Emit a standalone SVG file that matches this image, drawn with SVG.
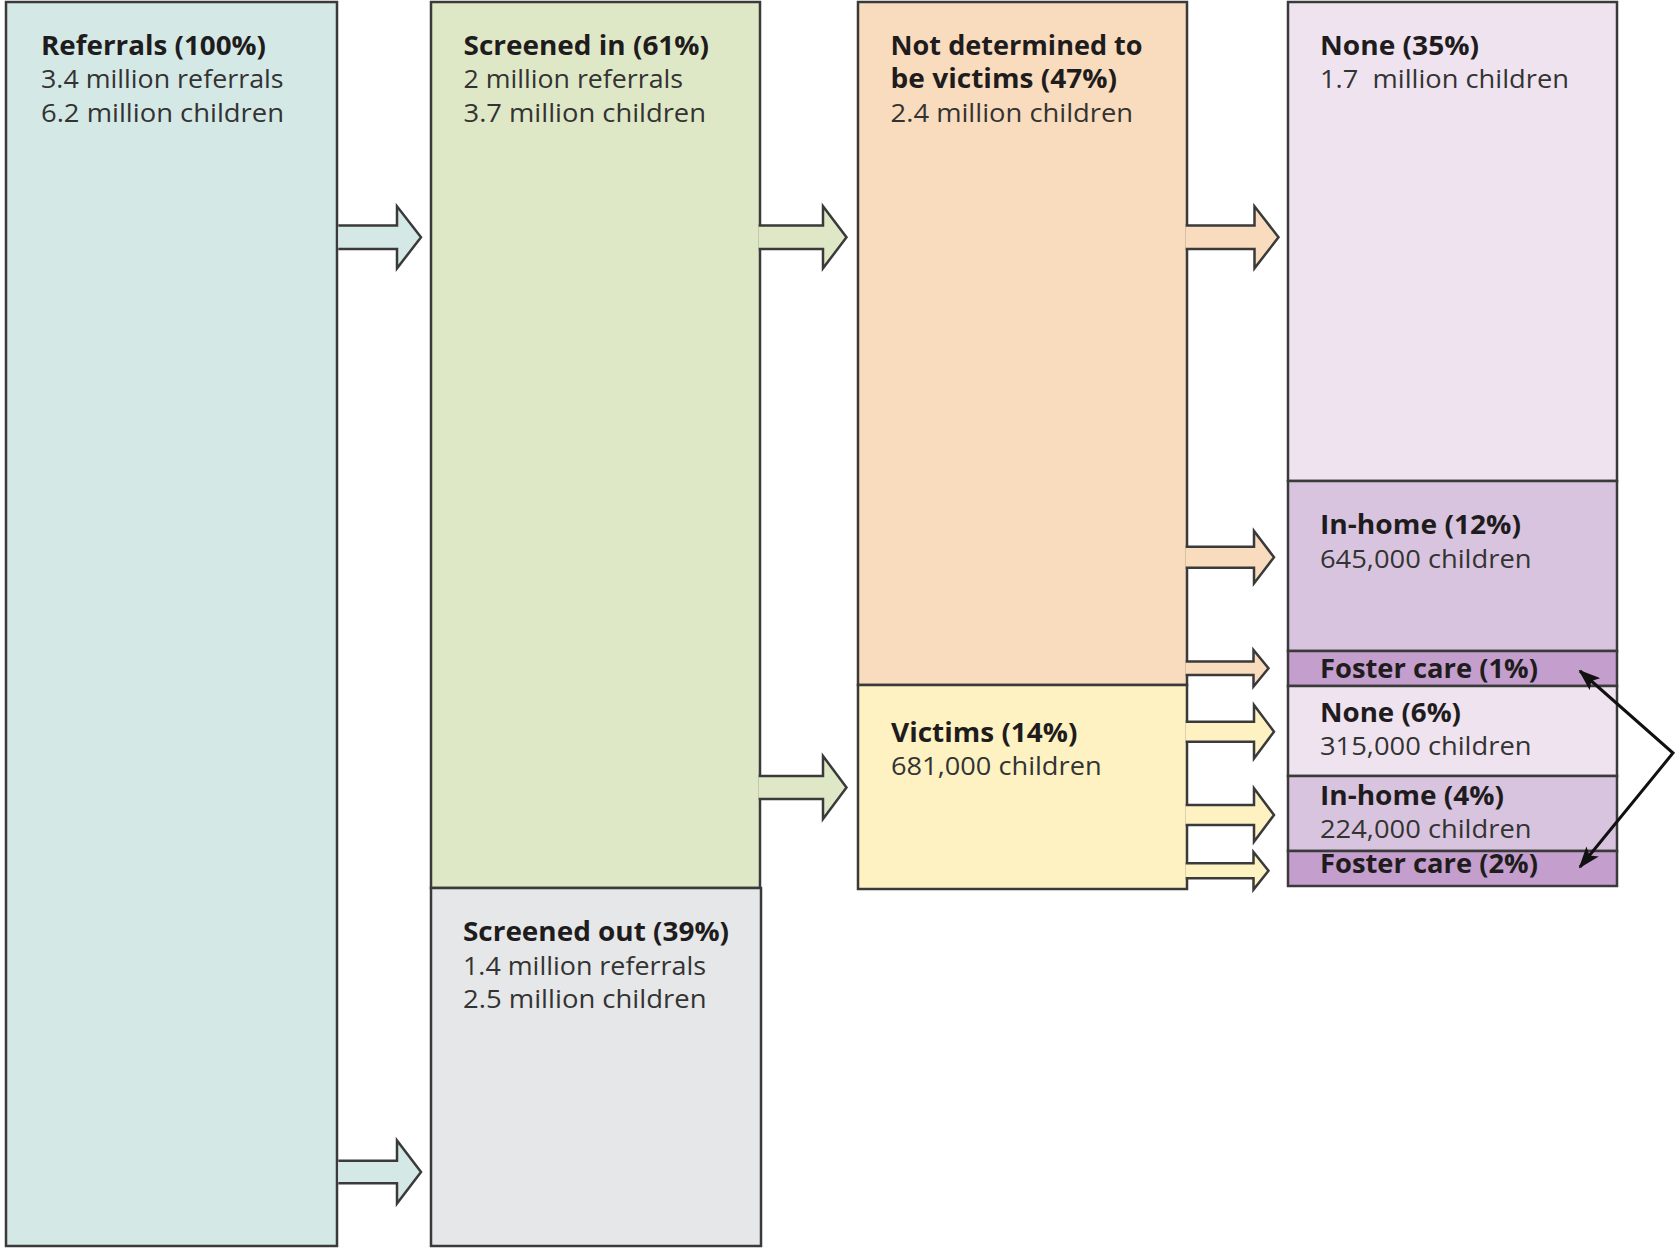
<svg xmlns="http://www.w3.org/2000/svg" width="1676" height="1249" viewBox="0 0 1676 1249">
<defs>
<style>
.box{stroke:#3a3a3a;stroke-width:2.5}
.arr{stroke:#3a3a3a;stroke-width:2.5;stroke-linejoin:miter}
.b{font-family:"Open Sans","Liberation Sans",sans-serif;font-weight:700;font-size:26px;fill:#1f1c1d}
.r{font-family:"Open Sans","Liberation Sans",sans-serif;font-weight:400;font-size:26px;fill:#333333}
.teal{fill:#d4e9e6}.green{fill:#dfe8c6}.gray{fill:#e6e7e8}.peach{fill:#f9dcbd}.yellow{fill:#fef2c3}
.lav{fill:#efe3f0}.mid{fill:#d9c4df}.dark{fill:#c49ecc}
.blk{fill:none;stroke:#111;stroke-width:3}
</style>
<marker id="head" viewBox="0 0 22 16" refX="20" refY="8" markerWidth="22" markerHeight="16" markerUnits="userSpaceOnUse" orient="auto-start-reverse">
<path d="M0,0 L22,8 L0,16 L5,8 Z" fill="#111"/>
</marker>
</defs>
<rect width="1676" height="1249" fill="#ffffff"/>

<g id="referrals">
<rect class="box teal" x="6" y="2" width="331" height="1244"/>
<text class="b" x="41" y="55" textLength="225" lengthAdjust="spacingAndGlyphs">Referrals (100%)</text>
<text class="r" x="41" y="88.3" textLength="242.6" lengthAdjust="spacingAndGlyphs">3.4 million referrals</text>
<text class="r" x="41" y="121.7" textLength="243" lengthAdjust="spacingAndGlyphs">6.2 million children</text>
</g>

<g id="screened-in">
<rect class="box green" x="431" y="2" width="329" height="886"/>
<text class="b" x="463.5" y="55" textLength="245.5" lengthAdjust="spacingAndGlyphs">Screened in (61%)</text>
<text class="r" x="463.5" y="88.3" textLength="219.5" lengthAdjust="spacingAndGlyphs">2 million referrals</text>
<text class="r" x="463.5" y="121.7" textLength="242.5" lengthAdjust="spacingAndGlyphs">3.7 million children</text>
</g>

<g id="screened-out">
<rect class="box gray" x="431" y="888" width="330" height="358"/>
<text class="b" x="463" y="940.7" textLength="266" lengthAdjust="spacingAndGlyphs">Screened out (39%)</text>
<text class="r" x="463" y="975" textLength="243" lengthAdjust="spacingAndGlyphs">1.4 million referrals</text>
<text class="r" x="463" y="1008.3" textLength="243.5" lengthAdjust="spacingAndGlyphs">2.5 million children</text>
</g>

<g id="not-determined">
<rect class="box peach" x="858" y="2" width="329" height="683"/>
<text class="b" x="890.6" y="55" textLength="252" lengthAdjust="spacingAndGlyphs">Not determined to</text>
<text class="b" x="890.6" y="88.3" textLength="226.5" lengthAdjust="spacingAndGlyphs">be victims (47%)</text>
<text class="r" x="890.6" y="121.7" textLength="242.5" lengthAdjust="spacingAndGlyphs">2.4 million children</text>
</g>

<g id="victims">
<rect class="box yellow" x="858" y="685" width="329" height="204"/>
<text class="b" x="891" y="741.7" textLength="186.5" lengthAdjust="spacingAndGlyphs">Victims (14%)</text>
<text class="r" x="891" y="775" textLength="210.6" lengthAdjust="spacingAndGlyphs">681,000 children</text>
</g>

<g id="none-35">
<rect class="box lav" x="1288" y="2" width="329" height="479"/>
<text class="b" x="1320" y="55" textLength="159" lengthAdjust="spacingAndGlyphs">None (35%)</text>
<text class="r" x="1320" y="88.3" textLength="249" lengthAdjust="spacingAndGlyphs" xml:space="preserve">1.7  million children</text>
</g>

<g id="in-home-12">
<rect class="box mid" x="1288" y="481" width="329" height="170"/>
<text class="b" x="1320" y="534" textLength="201" lengthAdjust="spacingAndGlyphs">In-home (12%)</text>
<text class="r" x="1320" y="567.6" textLength="211.5" lengthAdjust="spacingAndGlyphs">645,000 children</text>
</g>

<g id="foster-1">
<rect class="box dark" x="1288" y="651" width="329" height="35"/>
<text class="b" x="1320" y="678.3" textLength="218" lengthAdjust="spacingAndGlyphs">Foster care (1%)</text>
</g>

<g id="none-6">
<rect class="box lav" x="1288" y="686" width="329" height="90"/>
<text class="b" x="1320" y="721.7" textLength="141" lengthAdjust="spacingAndGlyphs">None (6%)</text>
<text class="r" x="1320" y="755" textLength="211.5" lengthAdjust="spacingAndGlyphs">315,000 children</text>
</g>

<g id="in-home-4">
<rect class="box mid" x="1288" y="776" width="329" height="75"/>
<text class="b" x="1320" y="805" textLength="184" lengthAdjust="spacingAndGlyphs">In-home (4%)</text>
<text class="r" x="1320" y="838.3" textLength="211.5" lengthAdjust="spacingAndGlyphs">224,000 children</text>
</g>

<g id="foster-2">
<rect class="box dark" x="1288" y="851" width="329" height="35"/>
<text class="b" x="1320" y="873.3" textLength="218" lengthAdjust="spacingAndGlyphs">Foster care (2%)</text>
</g>

<g id="connectors">
<path class="arr teal" d="M338.3,225.5 H397 V206.3 L421,237.3 L397,268.3 V249.1 H338.3"/>
<path class="arr teal" d="M338.3,1160.7 H397 V1140.5 L421,1172 L397,1203.5 V1183.3 H338.3"/>
<path class="arr green" d="M758.7,225.5 H823 V206.3 L846.5,237.3 L823,268.3 V249.1 H758.7"/>
<path class="arr green" d="M758.7,776 H823 V756 L846.5,787.5 L823,819 V799 H758.7"/>
<path class="arr peach" d="M1185.7,225.5 H1254.5 V206.3 L1278.5,237.3 L1254.5,268.3 V249.1 H1185.7"/>
<path class="arr peach" d="M1185.7,546.7 H1254 V531 L1274,557.2 L1254,583.4 V567.7 H1185.7"/>
<path class="arr peach" d="M1185.7,661.6 H1253.5 V650 L1268.5,668.3 L1253.5,686.6 V675 H1185.7"/>
<path class="arr yellow" d="M1185.7,721.7 H1254 V705 L1274,731.7 L1254,758.4 V741.7 H1185.7"/>
<path class="arr yellow" d="M1185.7,805 H1254 V788.3 L1274,815 L1254,841.7 V825 H1185.7"/>
<path class="arr yellow" d="M1185.7,863.3 H1253.5 V852 L1268.5,870.8 L1253.5,889.6 V878.3 H1185.7"/>
<path class="blk" d="M1580,671 L1673,753 L1580,867" marker-start="url(#head)" marker-end="url(#head)"/>
</g>
</svg>
